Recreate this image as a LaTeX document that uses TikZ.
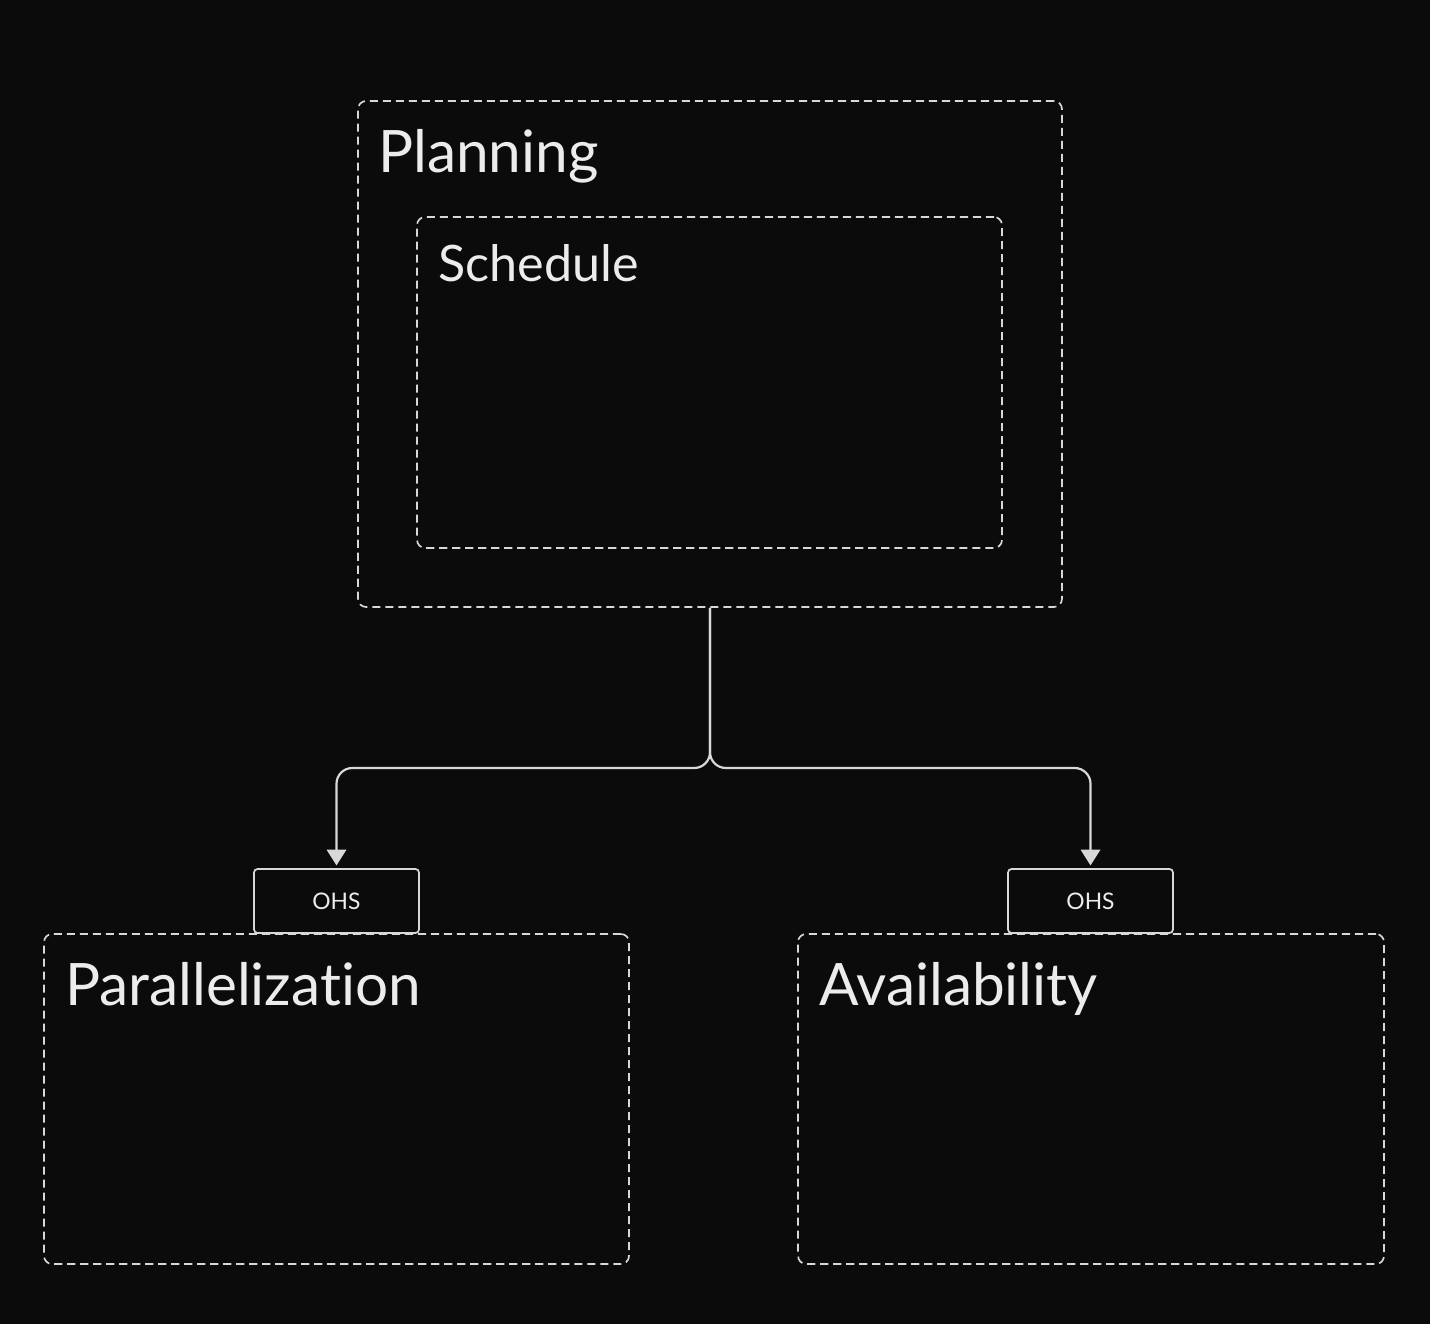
\documentclass[tikz,border=0pt]{standalone}
\usepackage{fontspec}
\setmainfont[Ligatures={NoCommon}]{Lato}
\usetikzlibrary{arrows.meta}
\definecolor{bg}{HTML}{0B0B0B}
\definecolor{ln}{HTML}{D8D8D8}
\definecolor{tx}{HTML}{ECECEC}
\begin{document}
\begin{tikzpicture}[x=0.02cm,y=-0.02cm,
  region/.style={draw=ln, line width=0.95pt, dash pattern=on 4.6pt off 2.8pt, rounded corners=4.5pt, inner sep=0pt},
  ohsbox/.style={draw=ln, line width=1pt, rounded corners=2pt, fill=bg, minimum width=3.3cm, minimum height=1.28cm, inner sep=0pt, text=tx, font=\fontsize{13}{15}\selectfont},
  title/.style={anchor=base west, inner sep=0pt, text=tx},
  conn/.style={draw=ln, line width=1.25pt, rounded corners=9pt},
  tip/.style={-{Triangle[width=11pt,length=9pt]}}]
\fill[bg] (0,0) rectangle (1430,1324);
\useasboundingbox (0,0) rectangle (1430,1324);
\node[region, minimum width=14.08cm, minimum height=10.12cm] (plan) at (710,354) {};
\node[region, minimum width=11.7cm, minimum height=6.62cm] (sched) at (709.5,382.5) {};
\node[region, minimum width=11.7cm, minimum height=6.6cm] (par) at (336.5,1099) {};
\node[region, minimum width=11.72cm, minimum height=6.6cm] (avail) at (1091,1099) {};
\node[title, font=\fontsize{33.3}{40}\selectfont] (tplan) at (378,173) {Planning};
\node[title, font=\fontsize{28.6}{34}\selectfont] (tsched) at (438,282) {Schedule};
\node[title, font=\fontsize{33.3}{40}\selectfont] (tpar) at (65,1005) {Parallelization};
\node[title, font=\fontsize{33.3}{40}\selectfont] (tavail) at (819,1005) {Availability};
\node[ohsbox] (ohs1) at (336.5,901) {OHS};
\node[ohsbox] (ohs2) at (1090.5,901) {OHS};
\coordinate (busL) at (336.5,768);
\coordinate (busR) at (1090.5,768);
\draw[conn, tip] (plan.south) |- (busL) -- ([yshift=1.5pt]ohs1.north);
\draw[conn, tip] (plan.south) |- (busR) -- ([yshift=1.5pt]ohs2.north);
\end{tikzpicture}
\end{document}
